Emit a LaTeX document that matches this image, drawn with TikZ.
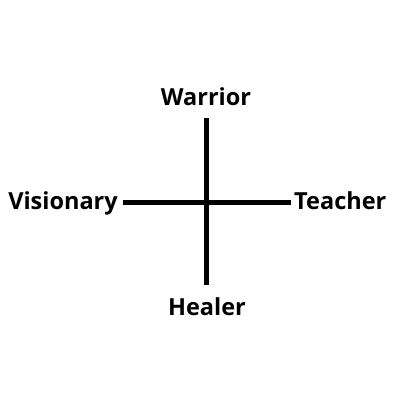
\documentclass[tikz,border=0pt]{standalone}
\usepackage{fontspec}
\setmainfont{Open Sans}
\usetikzlibrary{positioning}
\tikzset{
  axisline/.style={line width=5pt, draw=black},
  typelabel/.style={font=\fontsize{23.5}{28}\selectfont\bfseries, inner sep=0pt}
}
\begin{document}
\begin{tikzpicture}[x=1pt,y=-1pt]
  \useasboundingbox (0,0) rectangle (400,400);
  % end points of the two axes
  \coordinate (n) at (206,118);
  \coordinate (s) at (206,285);
  \coordinate (w) at (123,202);
  \coordinate (e) at (291,202);

  % the four labels
  \node[typelabel, anchor=base] (warrior) at (206,105) {Warrior};
  \node[typelabel, anchor=base] (healer) at (207,315) {Healer};
  \node[typelabel, anchor=base east] (visionary) at (118,209) {Visionary};
  \node[typelabel, anchor=base west] (teacher) at (294,209) {Teacher};

  % the cross
  \draw[axisline] (n) -- (s);
  \draw[axisline] (w) -- (e);
\end{tikzpicture}
\end{document}
